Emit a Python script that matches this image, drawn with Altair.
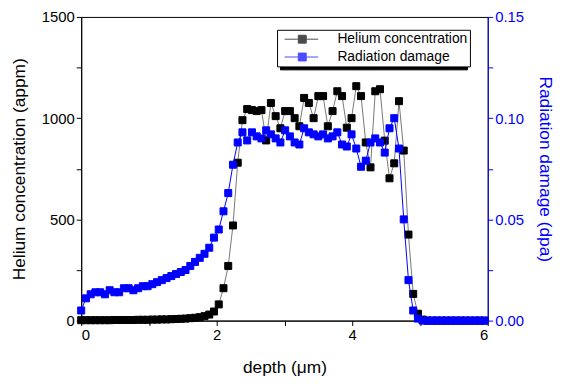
import altair as alt
import pandas as pd

depth = [0.00, 0.07, 0.14, 0.21, 0.28, 0.35, 0.42, 0.49, 0.56, 0.63,
         0.70, 0.77, 0.84, 0.91, 0.98, 1.05, 1.12, 1.19, 1.26, 1.33,
         1.40, 1.47, 1.54, 1.61, 1.68, 1.75, 1.82, 1.89, 1.96, 2.03,
         2.10, 2.17, 2.24, 2.31, 2.38, 2.45, 2.52, 2.59, 2.66, 2.73,
         2.80, 2.87, 2.94, 3.01, 3.08, 3.15, 3.22, 3.29, 3.36, 3.43,
         3.50, 3.57, 3.64, 3.71, 3.78, 3.85, 3.92, 3.99, 4.06, 4.13,
         4.20, 4.27, 4.34, 4.41, 4.48, 4.55, 4.62, 4.69, 4.76, 4.83,
         4.90, 4.97, 5.04, 5.11, 5.18, 5.25, 5.32, 5.39, 5.46, 5.53,
         5.60, 5.67, 5.74, 5.81, 5.88, 5.95]

helium = [2, 2, 2, 2, 2, 2, 2, 3, 3, 3,
          3, 3, 4, 4, 4, 5, 5, 6, 6, 7,
          8, 9, 10, 12, 14, 17, 22, 30, 45, 80,
          160, 270, 470, 780, 990, 1045, 1040, 1035, 1040, 890,
          1075, 1010, 950, 1035, 1035, 1000, 960, 1100, 1075, 1000,
          1109, 1109, 960, 1035, 1133, 1109, 953, 1000, 1158, 1109,
          880, 757, 1133, 1143, 889, 703, 777, 1084, 840, 425,
          132, 34, 5, 0, 0, 0, 0, 0, 0, 0,
          0, 0, 0, 0, 0, 0]

damage = [0.005, 0.011, 0.013, 0.014, 0.014, 0.013, 0.015, 0.014, 0.014, 0.016,
          0.016, 0.015, 0.016, 0.017, 0.017, 0.018, 0.019, 0.020, 0.021, 0.022,
          0.023, 0.024, 0.025, 0.027, 0.029, 0.031, 0.033, 0.036, 0.041, 0.045,
          0.054, 0.063, 0.077, 0.088, 0.093, 0.089, 0.093, 0.091, 0.090, 0.094,
          0.092, 0.090, 0.088, 0.094, 0.091, 0.088, 0.087, 0.095, 0.093, 0.092,
          0.091, 0.092, 0.090, 0.091, 0.093, 0.087, 0.086, 0.092, 0.085, 0.076,
          0.079, 0.088, 0.090, 0.088, 0.083, 0.095, 0.100, 0.085, 0.050, 0.020,
          0.005, 0.001, 0.0, 0.0, 0.0, 0.0, 0.0, 0.0, 0.0, 0.0,
          0.0, 0.0, 0.0, 0.0, 0.0, 0.0]

series_names = ["Helium concentration", "Radiation damage"]
series_colors = ["#000000", "#0000ff"]
shadow_keys = ["s1", "s2"]
x_ticks = [0, 1, 2, 3, 4, 5, 6]
he_ticks = [0, 250, 500, 750, 1000, 1250, 1500]
dm_ticks = [0, 0.025, 0.05, 0.075, 0.1, 0.125, 0.15]

FONT = "Liberation Sans"
LABEL_FS = 15
TITLE_FS = 17.5

df_he = pd.DataFrame({"depth": depth, "value": helium,
                      "series": series_names[0], "shadow": shadow_keys[0]})
df_dm = pd.DataFrame({"depth": depth, "value": damage,
                      "series": series_names[1], "shadow": shadow_keys[1]})

x_enc = alt.X(
    "depth:Q",
    scale=alt.Scale(domain=[0, 6], nice=False),
    axis=alt.Axis(
        values=x_ticks,
        labelExpr="datum.value % 2 == 0 ? datum.label : ''",
        title="depth (μm)",
        grid=False,
        titlePadding=16,
    ),
)

y_he = alt.Y(
    "value:Q",
    scale=alt.Scale(domain=[0, 1500], nice=False),
    axis=alt.Axis(
        values=he_ticks,
        format="d",
        labelExpr="datum.value % 500 == 0 ? datum.label : ''",
        title="Helium concentration (appm)",
        grid=False,
        titlePadding=13,
    ),
)

y_dm = alt.Y(
    "value:Q",
    scale=alt.Scale(domain=[0, 0.15], nice=False),
    axis=alt.Axis(
        orient="right",
        values=dm_ticks,
        format=".2f",
        labelExpr="round(datum.value * 1000) % 50 == 0 ? datum.label : ''",
        title="Radiation damage (dpa)",
        grid=False,
        titlePadding=12,
        domainColor="#0000ff",
        tickColor="#0000ff",
        labelColor="#0000ff",
        titleColor="#0000ff",
    ),
)

legend_common = dict(
    title=None,
    orient="none",
    direction="vertical",
    padding=2,
    symbolType="M-2.55,0H-0.57M0.57,0H2.3M-0.57,-0.57H0.57V0.57H-0.57Z",
    symbolSize=196,
    symbolStrokeWidth=1,
    symbolOffset=16,
    labelFontSize=14,
    labelFont=FONT,
    labelColor="black",
    rowPadding=3,
)

main_legend = alt.Legend(
    legendX=198,
    legendY=13,
    fillColor="white",
    strokeColor="black",
    zindex=2,
    labelOffset=28,
    labelExpr="datum.label + '   '",
    **legend_common,
)

shadow_legend = alt.Legend(
    legendX=201,
    legendY=16,
    fillColor="black",
    strokeColor="black",
    zindex=1,
    labelOffset=154,
    labelExpr="''",
    **legend_common,
)

color_enc = alt.Color(
    "series:N",
    scale=alt.Scale(domain=series_names, range=series_colors),
    legend=main_legend,
)
stroke_enc = alt.Stroke(
    "series:N",
    scale=alt.Scale(domain=series_names, range=series_colors),
    legend=main_legend,
)
shadow_enc = alt.Opacity(
    "shadow:O",
    scale=alt.Scale(domain=shadow_keys, range=[1, 1]),
    legend=shadow_legend,
)

he_line = alt.Chart(df_he).mark_line(color="#777777", strokeWidth=1).encode(x=x_enc, y=y_he)
he_pts = alt.Chart(df_he).mark_square(size=50, filled=True, strokeWidth=1).encode(
    x=x_enc, y=y_he, color=color_enc, stroke=stroke_enc, opacity=shadow_enc
)
dm_line = alt.Chart(df_dm).mark_line(color="#0000ff", strokeWidth=1).encode(x=x_enc, y=y_dm)
dm_pts = alt.Chart(df_dm).mark_square(size=50, filled=True, strokeWidth=1, opacity=1).encode(
    x=x_enc, y=y_dm, color=color_enc, stroke=stroke_enc
)

he_layer = alt.layer(he_line, he_pts)
dm_layer = alt.layer(dm_line, dm_pts)

chart = (
    alt.layer(he_layer, dm_layer)
    .resolve_scale(y="independent")
    .properties(
        width=411,
        height=307,
        autosize=alt.AutoSizeParams(type="none"),
        padding={"left": 74, "top": 7, "right": 68, "bottom": 58},
    )
    .configure_view(stroke="black", strokeWidth=1)
    .configure_axis(
        labelFont=FONT,
        titleFont=FONT,
        labelFontSize=LABEL_FS,
        titleFontSize=TITLE_FS,
        titleFontWeight="normal",
        domainColor="black",
        tickColor="black",
        labelColor="black",
        titleColor="black",
        tickSize=5,
        domainWidth=1,
    )
)

chart.save("out.html", embed_options={"renderer": "svg", "actions": False})
